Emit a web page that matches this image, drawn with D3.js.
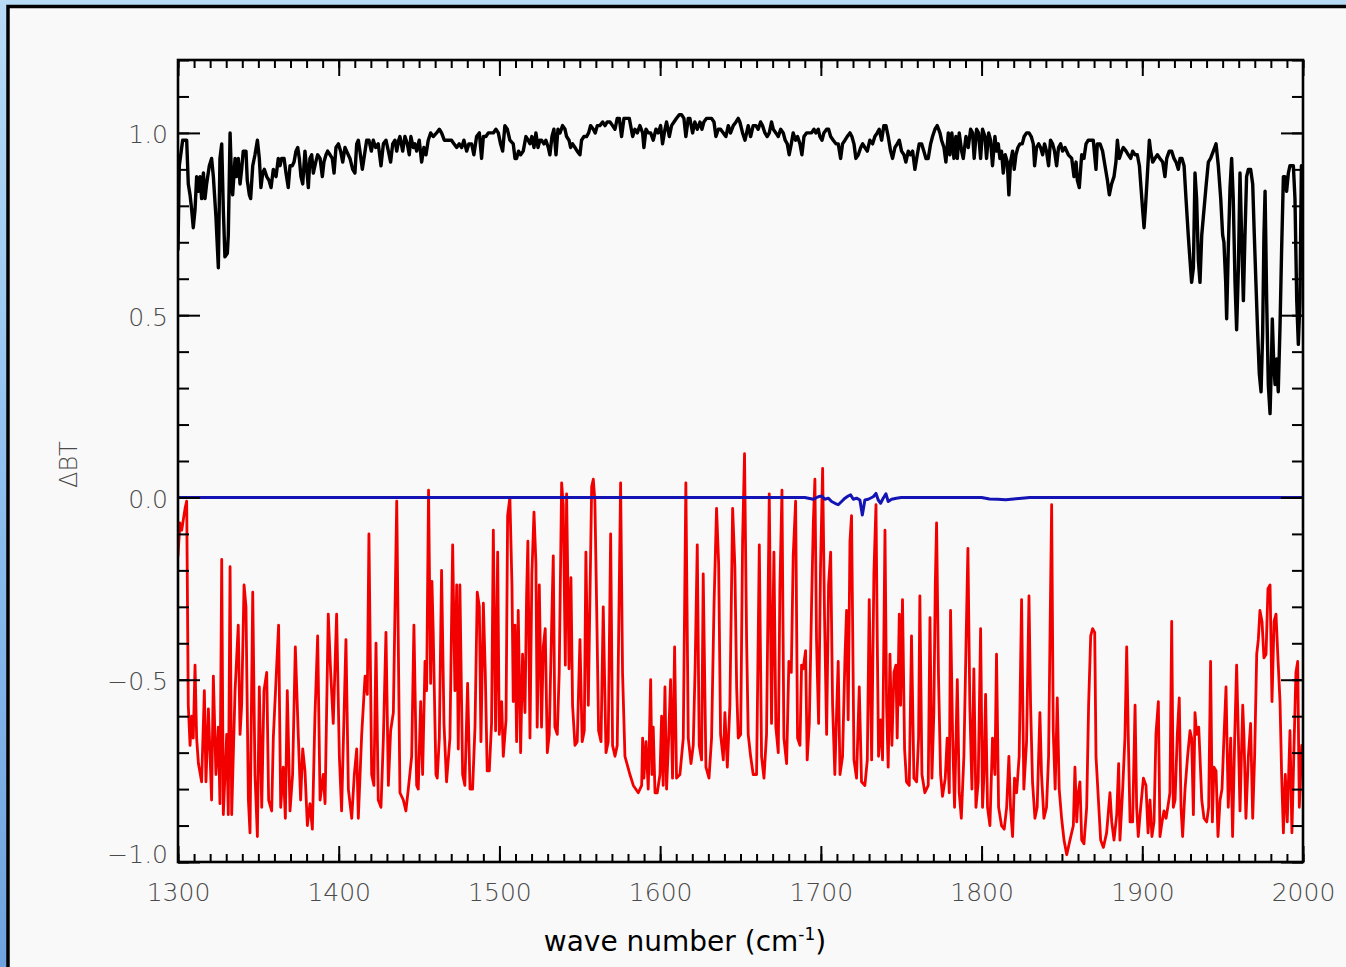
<!DOCTYPE html>
<html>
<head>
<meta charset="utf-8">
<script src="https://cdn.jsdelivr.net/npm/d3@7"></script>
<style>
  html, body { margin: 0; padding: 0; width: 1346px; height: 967px; overflow: hidden; background: #9cc6ef; }
  svg { display: block; }
</style>
</head>
<body>
<svg id="chart" width="1346" height="967"></svg>
<script>
// ---- Axis settings ----
const xDomain = [1300, 2000];
const yDomain = [-1.0, 1.2];
const xTickValues = [1300, 1400, 1500, 1600, 1700, 1800, 1900, 2000];
const yTickValues = [-1.0, -0.5, 0.0, 0.5, 1.0];
const xTitle = "wave number (cm";
const xTitleSup = "-1";
const yTitle = "\u0394BT";

// ---- Spectrum: black curve (wave number, ΔBT) ----
const blackPoints = [
[1300.0,0.68],[1300.8,0.91],[1302.9,0.98],[1305.4,0.98],[1306.4,0.86],[1307.5,0.83],[1308.5,0.79],[1309.5,0.74],[1310.6,0.79],[1311.6,0.88],
[1312.7,0.84],[1313.7,0.88],[1314.7,0.82],[1315.8,0.89],[1316.8,0.82],[1317.8,0.86],[1319.5,0.91],[1320.9,0.93],[1322.0,0.88],[1323.6,0.77],
[1325.1,0.63],[1326.1,0.93],[1327.2,0.97],[1328.2,0.79],[1329.2,0.66],[1330.7,0.67],[1331.3,0.72],[1332.4,1.00],[1333.4,0.86],[1334.0,0.83],
[1335.5,0.93],[1336.5,0.88],[1337.5,0.93],[1338.6,0.86],[1339.6,0.90],[1340.6,0.95],[1342.3,0.95],[1343.1,0.87],[1344.4,0.83],[1345.2,0.82],
[1346.5,0.91],[1347.9,0.94],[1349.4,0.98],[1350.6,0.93],[1351.6,0.85],[1352.7,0.89],[1353.7,0.90],[1355.2,0.88],[1356.6,0.87],[1357.9,0.85],
[1359.3,0.90],[1361.0,0.88],[1362.4,0.93],[1363.5,0.91],[1364.5,0.93],[1366.0,0.93],[1367.2,0.89],[1368.6,0.85],[1369.7,0.91],[1371.1,0.91],
[1372.2,0.92],[1373.4,0.95],[1374.5,0.96],[1375.5,0.93],[1376.5,0.88],[1377.6,0.86],[1379.0,0.95],[1380.1,0.90],[1381.1,0.85],[1382.1,0.93],
[1383.2,0.94],[1384.2,0.89],[1385.7,0.92],[1386.9,0.94],[1388.4,0.93],[1389.8,0.88],[1390.8,0.92],[1392.1,0.94],[1393.1,0.95],[1394.6,0.94],
[1396.0,0.93],[1397.1,0.89],[1398.3,0.96],[1399.8,0.97],[1401.2,0.95],[1402.5,0.92],[1403.9,0.96],[1404.9,0.95],[1407.0,0.93],[1408.7,0.90],
[1410.1,0.89],[1411.2,0.97],[1412.2,0.98],[1413.2,0.95],[1414.7,0.90],[1415.7,0.93],[1417.4,0.98],[1418.8,0.98],[1420.3,0.95],[1421.5,0.98],
[1423.0,0.96],[1424.6,0.97],[1426.3,0.91],[1427.8,0.97],[1429.4,0.98],[1430.9,0.95],[1432.3,0.92],[1433.6,0.97],[1435.0,0.98],[1436.1,0.95],
[1437.3,0.98],[1438.1,0.99],[1439.8,0.95],[1441.2,0.99],[1442.7,0.97],[1443.9,0.94],[1444.9,0.99],[1446.4,0.96],[1447.4,0.97],[1448.5,0.95],
[1450.1,0.98],[1451.6,0.92],[1453.0,0.96],[1454.3,0.94],[1455.7,0.98],[1457.2,1.00],[1458.8,0.99],[1460.9,1.00],[1462.6,1.01],[1464.0,1.00],
[1465.7,0.98],[1467.1,0.98],[1468.8,0.98],[1470.2,0.98],[1471.7,0.97],[1473.4,0.96],[1475.0,0.97],[1476.5,0.96],[1477.9,0.98],[1479.6,0.95],
[1481.0,0.97],[1482.7,0.97],[1484.1,0.94],[1485.8,0.99],[1487.5,1.00],[1488.9,0.93],[1490.0,0.99],[1491.6,0.99],[1493.1,1.00],[1494.5,1.00],
[1496.2,1.00],[1497.8,1.01],[1499.3,1.00],[1500.7,0.97],[1502.0,0.95],[1503.4,1.02],[1504.9,1.01],[1506.5,0.98],[1508.6,0.97],[1509.7,0.93],
[1510.7,0.93],[1511.9,0.95],[1513.2,0.94],[1514.8,0.95],[1516.5,0.99],[1517.9,0.98],[1519.0,0.97],[1520.2,0.99],[1521.5,0.96],[1522.7,1.00],
[1524.0,0.96],[1525.2,0.98],[1526.2,0.98],[1527.7,0.97],[1528.9,0.98],[1530.4,0.96],[1531.4,0.94],[1532.7,0.99],[1533.9,1.01],[1535.2,0.94],
[1536.4,1.01],[1537.7,1.00],[1539.3,1.02],[1540.8,1.01],[1541.8,0.99],[1543.3,0.98],[1544.3,0.96],[1545.5,0.97],[1547.0,0.96],[1548.4,0.95],
[1550.1,0.94],[1551.1,0.98],[1552.6,0.99],[1554.2,0.99],[1555.5,1.00],[1556.7,1.02],[1558.4,1.01],[1559.6,1.00],[1560.9,1.02],[1562.5,1.02],
[1564.2,1.03],[1565.7,1.02],[1567.1,1.03],[1568.8,1.03],[1570.4,1.02],[1571.9,1.01],[1573.3,1.04],[1574.6,1.04],[1576.0,0.99],[1577.5,1.04],
[1579.1,1.04],[1580.8,1.04],[1582.9,0.99],[1584.3,1.01],[1585.8,1.00],[1587.4,1.02],[1589.1,1.00],[1589.9,0.96],[1591.2,1.01],[1592.6,1.00],
[1594.1,1.00],[1595.7,0.98],[1597.4,1.01],[1598.8,1.00],[1600.3,1.02],[1601.5,0.97],[1603.0,1.01],[1604.0,1.03],[1605.7,0.99],[1607.1,1.02],
[1608.6,1.03],[1610.2,1.04],[1611.9,1.05],[1613.3,1.05],[1614.8,1.04],[1616.0,0.99],[1617.5,1.04],[1618.5,1.04],[1620.2,1.00],[1621.6,1.03],
[1623.1,1.01],[1624.8,1.03],[1626.0,1.01],[1627.2,1.03],[1628.9,1.04],[1630.6,1.04],[1632.0,1.04],[1633.5,1.03],[1634.7,0.99],[1636.2,1.01],
[1637.6,1.01],[1639.3,1.00],[1640.9,0.99],[1642.4,1.02],[1643.8,1.00],[1645.5,1.02],[1647.2,1.03],[1648.6,1.04],[1649.6,1.03],[1651.3,1.00],
[1652.8,0.98],[1653.8,1.00],[1654.8,1.02],[1656.3,0.99],[1657.9,1.02],[1659.6,1.02],[1661.0,1.01],[1662.5,1.03],[1663.7,1.02],[1665.2,1.00],
[1666.6,0.99],[1667.9,1.00],[1669.3,1.03],[1670.4,1.01],[1672.0,1.00],[1673.5,0.99],[1675.0,1.01],[1676.6,1.00],[1677.8,0.98],[1679.1,0.97],
[1680.3,0.94],[1681.6,0.97],[1682.8,1.00],[1684.3,0.98],[1685.5,0.99],[1687.0,0.97],[1688.2,0.94],[1689.5,0.99],[1691.1,1.00],[1692.8,1.00],
[1694.2,1.00],[1695.7,1.01],[1696.9,1.00],[1698.4,1.01],[1699.4,0.99],[1700.7,0.98],[1701.9,1.00],[1703.6,1.01],[1704.8,1.01],[1706.1,0.99],
[1707.7,0.98],[1709.4,0.97],[1710.8,0.97],[1712.3,0.93],[1713.5,0.97],[1715.0,0.98],[1716.4,0.99],[1718.1,1.00],[1719.3,0.99],[1720.6,0.97],
[1721.8,0.93],[1723.3,0.94],[1724.8,0.96],[1726.0,0.97],[1727.4,0.96],[1728.9,0.95],[1730.5,0.98],[1732.2,0.97],[1733.6,0.99],[1735.1,1.00],
[1736.3,1.01],[1737.8,0.98],[1739.2,1.02],[1740.5,1.02],[1741.9,0.99],[1743.4,0.95],[1744.6,0.93],[1746.1,0.96],[1747.5,0.97],[1748.8,0.98],
[1750.2,0.95],[1751.7,0.94],[1752.9,0.92],[1754.4,0.95],[1755.8,0.94],[1757.1,0.95],[1758.5,0.90],[1760.0,0.94],[1761.2,0.97],[1762.7,0.97],
[1764.1,0.95],[1765.4,0.93],[1766.8,0.93],[1768.3,0.97],[1769.5,0.99],[1771.0,1.01],[1772.4,1.02],[1774.1,1.00],[1775.1,0.98],[1776.6,0.96],
[1777.8,0.92],[1779.3,1.00],[1780.3,0.94],[1781.5,1.00],[1782.8,0.93],[1784.0,0.99],[1784.9,0.93],[1786.1,1.00],[1787.6,0.95],[1788.6,0.93],
[1790.3,0.99],[1791.7,0.96],[1793.2,1.01],[1794.4,1.00],[1795.4,0.93],[1796.9,1.01],[1798.1,1.00],[1799.4,0.93],[1800.6,1.01],[1802.1,0.99],
[1803.1,0.93],[1804.4,1.00],[1805.6,0.98],[1806.8,0.91],[1808.3,0.99],[1809.3,0.95],[1810.4,0.97],[1811.4,0.93],[1812.4,0.95],[1813.5,0.89],
[1814.7,0.94],[1816.0,0.92],[1817.0,0.83],[1818.0,0.92],[1819.3,0.95],[1820.3,0.90],[1821.4,0.94],[1822.6,0.96],[1823.9,0.97],[1825.3,0.97],
[1826.5,0.99],[1828.0,1.00],[1829.5,1.00],[1830.9,0.99],[1832.2,0.97],[1833.0,0.91],[1834.2,0.96],[1835.5,0.97],[1836.7,0.96],[1838.0,0.94],
[1839.2,0.97],[1840.4,0.95],[1841.7,0.91],[1842.9,0.98],[1844.2,0.97],[1845.4,0.95],[1846.7,0.91],[1847.9,0.96],[1849.2,0.97],[1850.4,0.95],
[1851.9,0.96],[1854.0,0.94],[1856.1,0.93],[1857.5,0.88],[1858.8,0.92],[1859.6,0.87],[1860.8,0.85],[1862.3,0.94],[1863.7,0.93],[1865.0,0.97],
[1866.4,0.98],[1867.9,0.98],[1869.5,0.98],[1871.2,0.90],[1872.0,0.97],[1873.7,0.97],[1875.3,0.95],[1876.8,0.91],[1878.3,0.87],[1879.5,0.83],
[1880.9,0.86],[1882.4,0.88],[1883.6,0.92],[1884.5,0.98],[1885.7,0.93],[1887.2,0.95],[1888.2,0.96],[1889.9,0.95],[1891.3,0.94],[1892.8,0.93],
[1894.0,0.95],[1895.5,0.94],[1896.9,0.94],[1898.2,0.91],[1899.2,0.85],[1900.2,0.79],[1901.1,0.74],[1901.9,0.79],[1903.1,0.88],[1904.4,0.98],
[1905.2,0.95],[1906.5,0.92],[1907.9,0.93],[1909.4,0.94],[1911.0,0.93],[1912.7,0.92],[1914.1,0.88],[1915.2,0.93],[1916.8,0.95],[1918.3,0.95],
[1919.7,0.93],[1921.0,0.92],[1922.4,0.90],[1923.5,0.93],[1924.7,0.93],[1926.0,0.91],[1927.2,0.82],[1928.6,0.72],[1929.7,0.65],[1930.7,0.59],
[1931.8,0.63],[1932.8,0.89],[1933.8,0.82],[1934.9,0.65],[1935.9,0.59],[1937.0,0.72],[1938.0,0.77],[1939.6,0.85],[1941.1,0.92],[1942.5,0.93],
[1944.2,0.95],[1945.9,0.97],[1947.3,0.91],[1948.8,0.82],[1950.0,0.72],[1950.8,0.70],[1951.9,0.59],[1952.5,0.49],[1953.5,0.68],[1954.6,0.85],
[1955.6,0.93],[1956.6,0.82],[1957.7,0.59],[1958.7,0.46],[1959.8,0.63],[1960.8,0.89],[1961.8,0.72],[1962.9,0.54],[1963.9,0.72],[1964.9,0.88],
[1966.0,0.90],[1967.4,0.90],[1968.7,0.86],[1969.7,0.72],[1970.7,0.59],[1971.8,0.45],[1972.8,0.34],[1973.9,0.29],[1974.9,0.45],[1975.7,0.72],
[1976.4,0.84],[1977.4,0.54],[1978.4,0.31],[1979.5,0.23],[1980.3,0.36],[1980.9,0.49],[1981.7,0.38],[1982.6,0.31],[1983.6,0.38],[1984.6,0.29],
[1985.7,0.47],[1986.7,0.68],[1987.8,0.88],[1988.8,0.88],[1989.8,0.84],[1990.9,0.89],[1991.9,0.91],[1993.0,0.91],[1994.0,0.91],[1995.0,0.82],
[1996.1,0.54],[1997.1,0.42],[1998.1,0.54],[1999.0,0.91],[1999.8,0.88],[2000.0,0.88]
];

// ---- Spectrum: red curve (wave number, ΔBT) ----
const redPoints = [
[1300.0,-0.16],[1301.2,-0.07],[1302.3,-0.09],[1304.4,-0.03],[1305.4,-0.01],[1306.4,-0.57],[1307.5,-0.68],[1308.5,-0.60],[1309.5,-0.66],[1310.6,-0.46],
[1311.6,-0.66],[1312.7,-0.73],[1314.7,-0.78],[1316.4,-0.53],[1317.4,-0.78],[1318.9,-0.58],[1319.9,-0.70],[1320.9,-0.83],[1322.0,-0.49],[1323.6,-0.76],
[1325.1,-0.63],[1326.1,-0.84],[1327.2,-0.17],[1328.2,-0.87],[1330.3,-0.65],[1331.3,-0.87],[1332.4,-0.19],[1333.4,-0.87],[1335.5,-0.53],[1337.5,-0.35],
[1338.6,-0.65],[1339.6,-0.57],[1341.1,-0.24],[1342.3,-0.30],[1343.8,-0.83],[1344.8,-0.92],[1346.5,-0.26],[1347.9,-0.76],[1349.4,-0.93],[1350.6,-0.52],
[1352.1,-0.85],[1353.5,-0.53],[1355.2,-0.48],[1356.4,-0.83],[1358.3,-0.86],[1359.3,-0.66],[1361.0,-0.50],[1362.6,-0.35],[1363.9,-0.85],[1365.5,-0.74],
[1366.8,-0.88],[1368.0,-0.53],[1369.7,-0.86],[1371.3,-0.76],[1373.0,-0.41],[1374.9,-0.66],[1376.3,-0.83],[1377.6,-0.69],[1379.0,-0.75],[1380.5,-0.90],
[1382.1,-0.84],[1383.6,-0.91],[1385.2,-0.60],[1386.9,-0.38],[1388.4,-0.83],[1390.4,-0.76],[1391.5,-0.84],[1393.5,-0.32],[1395.0,-0.48],[1396.6,-0.62],
[1398.7,-0.32],[1400.4,-0.71],[1401.8,-0.86],[1404.5,-0.39],[1406.0,-0.80],[1408.1,-0.88],[1409.7,-0.76],[1411.2,-0.69],[1412.2,-0.88],[1414.3,-0.65],
[1416.4,-0.49],[1417.8,-0.54],[1418.8,-0.10],[1420.5,-0.76],[1421.9,-0.79],[1423.2,-0.40],[1424.6,-0.83],[1426.3,-0.85],[1427.8,-0.66],[1429.4,-0.37],
[1430.9,-0.79],[1432.3,-0.64],[1434.0,-0.59],[1436.1,-0.01],[1438.1,-0.81],[1440.2,-0.83],[1441.8,-0.86],[1443.3,-0.80],[1445.4,-0.71],[1446.8,-0.35],
[1448.5,-0.79],[1449.5,-0.80],[1451.0,-0.56],[1452.2,-0.76],[1453.7,-0.45],[1454.7,-0.53],[1455.9,0.02],[1457.2,-0.51],[1458.0,-0.23],[1458.8,-0.37],
[1460.5,-0.76],[1461.3,-0.77],[1462.6,-0.66],[1464.0,-0.20],[1465.5,-0.62],[1467.1,-0.78],[1469.2,-0.66],[1470.9,-0.13],[1472.3,-0.53],[1473.4,-0.24],
[1474.4,-0.69],[1475.4,-0.24],[1477.1,-0.76],[1478.5,-0.79],[1480.2,-0.51],[1481.7,-0.80],[1483.3,-0.80],[1484.8,-0.63],[1486.2,-0.26],[1487.5,-0.30],
[1488.5,-0.67],[1490.0,-0.29],[1491.2,-0.48],[1492.4,-0.75],[1493.7,-0.75],[1495.1,-0.62],[1496.2,-0.09],[1497.6,-0.64],[1498.9,-0.15],[1499.9,-0.65],
[1501.4,-0.56],[1502.4,-0.71],[1504.1,-0.61],[1505.1,-0.05],[1506.5,0.00],[1507.8,-0.24],[1508.6,-0.56],[1509.7,-0.35],[1510.7,-0.67],[1511.7,-0.31],
[1513.2,-0.70],[1514.4,-0.43],[1515.9,-0.59],[1516.9,-0.27],[1517.7,-0.12],[1519.0,-0.66],[1520.2,-0.21],[1521.5,-0.04],[1522.7,-0.18],[1523.5,-0.63],
[1524.8,-0.24],[1526.2,-0.63],[1527.3,-0.41],[1528.5,-0.36],[1529.8,-0.70],[1531.0,-0.65],[1532.5,-0.35],[1533.5,-0.16],[1534.5,-0.63],[1536.0,-0.65],
[1537.2,-0.48],[1538.7,0.04],[1539.7,-0.02],[1541.0,-0.46],[1541.8,0.01],[1543.3,-0.47],[1544.5,-0.22],[1545.5,-0.57],[1547.0,-0.68],[1548.4,-0.67],
[1550.1,-0.39],[1551.5,-0.67],[1552.8,-0.64],[1553.8,-0.15],[1555.3,-0.57],[1556.3,-0.28],[1557.4,0.03],[1558.4,0.05],[1559.4,-0.01],[1560.5,-0.30],
[1561.7,-0.64],[1563.2,-0.67],[1564.6,-0.30],[1566.3,-0.70],[1567.7,-0.67],[1569.2,-0.10],[1570.4,-0.68],[1571.9,-0.71],[1573.3,-0.68],[1575.4,0.04],
[1576.6,-0.48],[1578.1,-0.71],[1581.2,-0.76],[1583.3,-0.79],[1586.4,-0.81],[1588.5,-0.79],[1589.1,-0.66],[1589.9,-0.77],[1591.2,-0.67],[1592.6,-0.80],
[1594.1,-0.50],[1594.9,-0.76],[1595.7,-0.63],[1596.8,-0.81],[1598.2,-0.81],[1599.9,-0.76],[1600.9,-0.60],[1601.9,-0.79],[1603.0,-0.52],[1604.0,-0.80],
[1605.3,-0.66],[1606.5,-0.50],[1607.7,-0.77],[1609.0,-0.41],[1610.2,-0.77],[1612.3,-0.76],[1614.4,-0.66],[1616.0,0.04],[1617.5,-0.66],[1619.2,-0.73],
[1620.6,-0.68],[1621.8,-0.46],[1623.1,-0.13],[1624.3,-0.68],[1625.8,-0.72],[1626.8,-0.21],[1628.5,-0.74],[1630.4,-0.77],[1632.0,-0.66],[1633.5,-0.30],
[1635.1,-0.03],[1636.4,-0.18],[1637.6,-0.65],[1639.3,-0.72],[1640.3,-0.59],[1641.8,-0.74],[1643.4,-0.57],[1645.1,-0.03],[1646.5,-0.19],[1647.6,-0.52],
[1648.6,-0.66],[1650.1,-0.65],[1651.3,-0.12],[1652.5,0.12],[1653.8,-0.39],[1654.8,-0.65],[1656.3,-0.71],[1657.9,-0.76],[1660.0,-0.76],[1661.7,-0.13],
[1663.1,-0.71],[1664.6,-0.77],[1666.2,-0.65],[1667.9,0.01],[1669.3,-0.62],[1670.8,-0.15],[1672.0,-0.63],[1673.5,-0.70],[1674.5,-0.25],[1675.8,0.02],
[1677.0,-0.66],[1678.7,-0.73],[1680.1,-0.45],[1681.6,-0.48],[1682.8,-0.16],[1684.3,-0.01],[1685.5,-0.66],[1687.0,-0.68],[1688.0,-0.46],[1689.0,-0.47],
[1690.5,-0.42],[1691.5,-0.72],[1692.8,-0.62],[1694.2,-0.30],[1695.3,-0.07],[1696.3,0.05],[1697.3,-0.39],[1698.6,-0.62],[1699.8,-0.19],[1701.1,0.08],
[1702.3,-0.33],[1703.6,-0.65],[1704.8,-0.24],[1706.1,-0.15],[1707.3,-0.57],[1708.7,-0.76],[1709.8,-0.59],[1710.8,-0.45],[1711.9,-0.76],[1713.5,-0.71],
[1715.0,-0.44],[1716.0,-0.31],[1717.0,-0.61],[1718.1,-0.12],[1719.1,-0.05],[1720.6,-0.72],[1722.2,-0.77],[1723.9,-0.52],[1725.3,-0.78],[1727.4,-0.79],
[1728.9,-0.72],[1730.1,-0.28],[1731.6,-0.72],[1733.0,-0.21],[1734.3,-0.02],[1735.1,-0.39],[1735.9,-0.71],[1737.2,-0.61],[1738.4,-0.72],[1739.9,-0.09],
[1740.9,-0.57],[1741.9,-0.74],[1743.0,-0.43],[1744.2,-0.68],[1745.5,-0.48],[1746.7,-0.46],[1747.5,-0.66],[1748.8,-0.32],[1749.6,-0.57],[1750.8,-0.28],
[1752.1,-0.69],[1753.3,-0.78],[1755.0,-0.79],[1756.4,-0.38],[1757.9,-0.77],[1759.6,-0.78],[1760.8,-0.66],[1761.6,-0.27],[1762.9,-0.76],[1764.7,-0.81],
[1766.8,-0.79],[1767.9,-0.33],[1769.1,-0.77],[1770.3,-0.59],[1771.2,-0.24],[1772.0,-0.07],[1773.2,-0.49],[1774.5,-0.76],[1775.7,-0.82],[1777.4,-0.77],
[1778.6,-0.66],[1779.9,-0.81],[1780.7,-0.31],[1782.0,-0.66],[1783.2,-0.85],[1784.9,-0.50],[1786.1,-0.81],[1787.4,-0.88],[1789.0,-0.71],[1790.3,-0.41],
[1791.5,-0.14],[1792.7,-0.57],[1794.0,-0.80],[1795.2,-0.47],[1796.5,-0.85],[1797.9,-0.78],[1799.4,-0.36],[1800.6,-0.85],[1801.5,-0.76],[1802.5,-0.54],
[1803.7,-0.85],[1805.2,-0.90],[1806.8,-0.66],[1808.3,-0.76],[1809.3,-0.43],[1810.6,-0.85],[1812.4,-0.90],[1814.1,-0.91],[1815.6,-0.85],[1817.0,-0.71],
[1818.0,-0.85],[1819.3,-0.93],[1820.5,-0.77],[1821.8,-0.81],[1823.4,-0.71],[1824.9,-0.28],[1826.3,-0.80],[1828.0,-0.67],[1829.5,-0.27],[1830.5,-0.57],
[1831.7,-0.78],[1833.2,-0.88],[1834.6,-0.85],[1836.3,-0.59],[1837.3,-0.76],[1838.8,-0.88],[1840.4,-0.85],[1841.7,-0.71],[1842.5,-0.41],[1843.6,-0.02],
[1844.6,-0.64],[1845.8,-0.80],[1847.1,-0.55],[1848.3,-0.80],[1849.8,-0.88],[1851.3,-0.94],[1853.0,-0.98],[1855.0,-0.94],[1857.1,-0.90],[1858.1,-0.74],
[1859.2,-0.89],[1860.2,-0.81],[1861.2,-0.78],[1862.3,-0.94],[1863.7,-0.95],[1865.4,-0.85],[1866.6,-0.57],[1867.9,-0.38],[1869.1,-0.36],[1870.4,-0.37],
[1871.2,-0.71],[1872.7,-0.83],[1874.1,-0.94],[1875.8,-0.96],[1877.8,-0.92],[1879.9,-0.81],[1881.0,-0.89],[1882.4,-0.94],[1884.1,-0.87],[1885.3,-0.73],
[1886.1,-0.94],[1887.8,-0.80],[1889.2,-0.66],[1890.3,-0.41],[1891.3,-0.66],[1892.4,-0.89],[1894.0,-0.89],[1895.5,-0.57],[1896.5,-0.85],[1897.5,-0.93],
[1899.0,-0.85],[1900.7,-0.77],[1902.3,-0.79],[1903.6,-0.92],[1904.8,-0.83],[1906.0,-0.93],[1907.3,-0.89],[1908.5,-0.65],[1910.0,-0.56],[1911.0,-0.93],
[1912.3,-0.89],[1913.5,-0.86],[1914.8,-0.88],[1916.2,-0.84],[1917.2,-0.81],[1918.3,-0.34],[1919.3,-0.85],[1920.4,-0.83],[1921.8,-0.65],[1923.0,-0.55],
[1924.1,-0.85],[1925.1,-0.93],[1926.6,-0.80],[1928.2,-0.71],[1929.7,-0.64],[1930.7,-0.66],[1931.8,-0.87],[1932.8,-0.59],[1933.8,-0.65],[1935.1,-0.63],
[1935.9,-0.71],[1937.0,-0.83],[1938.4,-0.88],[1940.1,-0.89],[1941.3,-0.85],[1942.5,-0.45],[1943.6,-0.89],[1944.6,-0.74],[1945.9,-0.75],[1947.1,-0.93],
[1948.4,-0.83],[1949.6,-0.80],[1950.8,-0.66],[1952.1,-0.52],[1953.5,-0.85],[1955.0,-0.66],[1956.2,-0.93],[1957.5,-0.66],[1958.7,-0.46],[1959.8,-0.66],
[1960.8,-0.86],[1962.5,-0.57],[1963.3,-0.66],[1964.5,-0.88],[1966.0,-0.71],[1967.4,-0.62],[1968.7,-0.88],[1969.9,-0.71],[1971.2,-0.43],[1972.2,-0.39],
[1973.2,-0.31],[1974.5,-0.34],[1975.7,-0.44],[1977.0,-0.43],[1978.2,-0.25],[1979.5,-0.24],[1980.7,-0.56],[1982.0,-0.34],[1983.2,-0.32],[1984.4,-0.44],
[1985.7,-0.56],[1986.7,-0.76],[1987.8,-0.92],[1989.0,-0.76],[1990.2,-0.89],[1991.9,-0.64],[1993.1,-0.92],[1994.6,-0.65],[1995.6,-0.48],[1996.7,-0.45],
[1997.7,-0.85],[1999.2,-0.68],[2000.0,-0.70]
];

// ---- Spectrum: blue curve (wave number, ΔBT) ----
const bluePoints = [
[1300.0,0.000],[1690.0,0.000],[1695.3,-0.005],[1698.4,0.002],[1700.5,0.004],[1702.5,-0.005],[1704.6,-0.002],[1706.7,-0.011],[1708.8,-0.016],[1710.8,-0.020],
[1712.9,-0.011],[1715.0,-0.002],[1717.0,0.004],[1718.5,0.007],[1720.2,-0.005],[1722.2,-0.002],[1724.3,-0.007],[1725.8,-0.048],[1727.4,-0.007],[1729.5,-0.005],
[1732.6,0.002],[1734.3,0.011],[1735.7,-0.007],[1737.2,-0.016],[1738.8,-0.002],[1740.5,0.010],[1741.9,-0.011],[1744.0,-0.005],[1747.0,-0.002],[1750.0,0.000],
[1800.0,0.000],[1805.0,-0.004],[1810.0,-0.005],[1815.0,-0.006],[1820.0,-0.004],[1825.0,-0.002],[1830.0,0.000],[2000.0,0.000]
];

// ---- Layout ----
const W = 1346, H = 967;
const plot = { left: 178, right: 1303, top: 60, bottom: 862 };

const svg = d3.select("#chart");
const defs = svg.append("defs");

// slide-style backdrop with a framed panel
const sky = defs.append("linearGradient").attr("id", "sky")
  .attr("x1", 0).attr("y1", 0).attr("x2", 0).attr("y2", 1);
sky.append("stop").attr("offset", "0%").attr("stop-color", "#b8dbf6");
sky.append("stop").attr("offset", "50%").attr("stop-color", "#8fbff0");
sky.append("stop").attr("offset", "100%").attr("stop-color", "#6fa3de");
svg.append("rect").attr("width", W).attr("height", H).attr("fill", "url(#sky)");
svg.append("rect")
  .attr("x", 8).attr("y", 6.5)
  .attr("width", W + 40).attr("height", H + 40)
  .attr("fill", "#f9f9f9").attr("stroke", "#000").attr("stroke-width", 3.5);

const x = d3.scaleLinear().domain(xDomain).range([plot.left, plot.right]);
const y = d3.scaleLinear().domain(yDomain).range([plot.bottom, plot.top]);

defs.append("clipPath").attr("id", "plotClip")
  .append("rect")
  .attr("x", plot.left).attr("y", plot.top)
  .attr("width", plot.right - plot.left).attr("height", plot.bottom - plot.top);

// ---- Curves ----
const line = d3.line().x(d => x(d[0])).y(d => y(d[1]));
const curves = svg.append("g").attr("clip-path", "url(#plotClip)").attr("fill", "none")
  .attr("stroke-linejoin", "round").attr("stroke-linecap", "round");
curves.append("path").datum(blackPoints).attr("d", line)
  .attr("stroke", "#000").attr("stroke-width", 3.4);
curves.append("path").datum(redPoints).attr("d", line)
  .attr("stroke", "#f20000").attr("stroke-width", 2.8);
curves.append("path").datum(bluePoints).attr("d", line)
  .attr("stroke", "#1414b4").attr("stroke-width", 3);

// ---- Axes (ticks point inward on all four sides) ----
const xMinor = d3.range(xDomain[0], xDomain[1] + 1, 10);
const yMinor = d3.range(-10, 13, 1).map(v => v / 10);
const labelFont = "'DejaVu Sans', 'Liberation Sans', sans-serif";

function addAxis(gen, tx, ty) {
  const g = svg.append("g").attr("transform", `translate(${tx},${ty})`).call(gen);
  g.select(".domain").remove();
  g.selectAll(".tick line").attr("stroke", "#000").attr("stroke-width", 2);
  return g;
}

// bottom
const xBottom = addAxis(d3.axisBottom(x).tickValues(xTickValues).tickSize(-16).tickPadding(21)
  .tickFormat(d3.format("d")), 0, plot.bottom);
addAxis(d3.axisBottom(x).tickValues(xMinor).tickSize(-8).tickFormat(""), 0, plot.bottom);
// top
addAxis(d3.axisTop(x).tickValues(xTickValues).tickSize(-16).tickFormat(""), 0, plot.top);
addAxis(d3.axisTop(x).tickValues(xMinor).tickSize(-8).tickFormat(""), 0, plot.top);
// left
const yLeft = addAxis(d3.axisLeft(y).tickValues(yTickValues).tickSize(-22).tickPadding(10)
  .tickFormat(d3.format(".1f")), plot.left, 0);
addAxis(d3.axisLeft(y).tickValues(yMinor).tickSize(-11).tickFormat(""), plot.left, 0);
// right
addAxis(d3.axisRight(y).tickValues(yTickValues).tickSize(-22).tickFormat(""), plot.right, 0);
addAxis(d3.axisRight(y).tickValues(yMinor).tickSize(-11).tickFormat(""), plot.right, 0);

[xBottom, yLeft].forEach(g => g.selectAll(".tick text")
  .attr("font-family", labelFont).attr("font-size", 25).attr("font-weight", 200)
  .attr("fill", "#4a4a4a"));
// lowest y label sits a little above the corner
yLeft.selectAll(".tick text").attr("dy", d => d === -1.0 ? "0.02em" : "0.4em");

// plot box
svg.append("rect")
  .attr("x", plot.left).attr("y", plot.top)
  .attr("width", plot.right - plot.left).attr("height", plot.bottom - plot.top)
  .attr("fill", "none").attr("stroke", "#000").attr("stroke-width", 2.6);

// ---- Titles ----
svg.append("text")
  .attr("transform", `translate(77,${y(0.09)}) rotate(-90)`)
  .attr("text-anchor", "middle")
  .attr("font-family", labelFont).attr("font-size", 24).attr("font-weight", 200)
  .attr("fill", "#4a4a4a")
  .text(yTitle);

const xt = svg.append("text")
  .attr("x", 685).attr("y", 951)
  .attr("text-anchor", "middle")
  .attr("font-family", labelFont).attr("font-size", 28).attr("fill", "#000");
xt.append("tspan").text(xTitle);
xt.append("tspan").attr("dy", -11).attr("font-size", 17).text(xTitleSup);
xt.append("tspan").attr("dy", 11).text(")");
</script>
</body>
</html>
